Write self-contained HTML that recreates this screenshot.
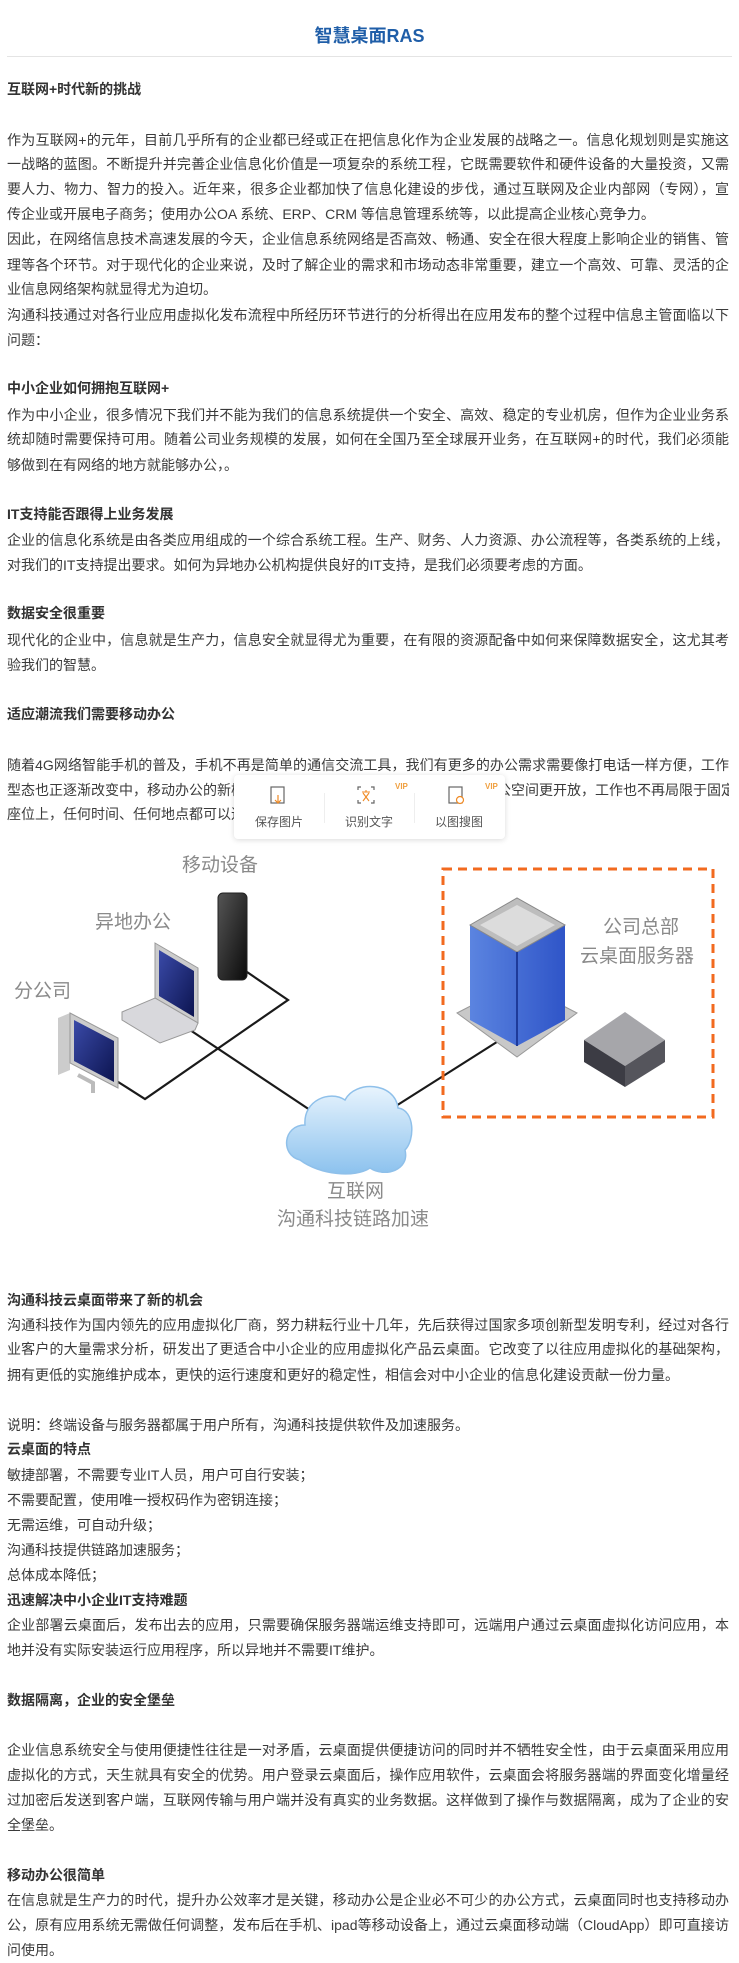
<!DOCTYPE html>
<html><head><meta charset="utf-8">
<style>
body{margin:0;background:#fff;width:739px;height:1963px;position:relative;overflow:hidden;font-family:"Liberation Sans","Noto Sans CJK SC","WenQuanYi Zen Hei",sans-serif;color:#3a3a3a}
.l{position:absolute;left:7px;width:722px;height:25px;line-height:25px;font-size:14px;white-space:nowrap;overflow:hidden}
.j{text-align:justify;text-align-last:justify}
.h{font-weight:bold;color:#333}
.lab{position:absolute;font-size:19px;color:#8a8a8a;white-space:nowrap;line-height:24px}
</style></head><body>
<div style="position:absolute;left:0;width:739px;top:22px;text-align:center;font-size:18px;font-weight:bold;color:#1f5ea8">智慧桌面RAS</div>
<div style="position:absolute;left:7px;width:725px;top:56px;height:1px;background:#e4e4e4"></div>

<div class="l h" style="top:77px">互联网+时代新的挑战</div>
<div class="l j" style="top:128px">作为互联网+的元年，目前几乎所有的企业都已经或正在把信息化作为企业发展的战略之一。信息化规划则是实施这</div>
<div class="l j" style="top:152px">一战略的蓝图。不断提升并完善企业信息化价值是一项复杂的系统工程，它既需要软件和硬件设备的大量投资，又需</div>
<div class="l j" style="top:177px">要人力、物力、智力的投入。近年来，很多企业都加快了信息化建设的步伐，通过互联网及企业内部网（专网），宣</div>
<div class="l" style="top:202px">传企业或开展电子商务；使用办公OA 系统、ERP、CRM 等信息管理系统等，以此提高企业核心竞争力。</div>
<div class="l j" style="top:227px">因此，在网络信息技术高速发展的今天，企业信息系统网络是否高效、畅通、安全在很大程度上影响企业的销售、管</div>
<div class="l j" style="top:253px">理等各个环节。对于现代化的企业来说，及时了解企业的需求和市场动态非常重要，建立一个高效、可靠、灵活的企</div>
<div class="l" style="top:277px">业信息网络架构就显得尤为迫切。</div>
<div class="l j" style="top:303px">沟通科技通过对各行业应用虚拟化发布流程中所经历环节进行的分析得出在应用发布的整个过程中信息主管面临以下</div>
<div class="l" style="top:328px">问题：</div>

<div class="l h" style="top:376px">中小企业如何拥抱互联网+</div>
<div class="l j" style="top:403px">作为中小企业，很多情况下我们并不能为我们的信息系统提供一个安全、高效、稳定的专业机房，但作为企业业务系</div>
<div class="l j" style="top:427px">统却随时需要保持可用。随着公司业务规模的发展，如何在全国乃至全球展开业务，在互联网+的时代，我们必须能</div>
<div class="l" style="top:453px">够做到在有网络的地方就能够办公，。</div>

<div class="l h" style="top:502px">IT支持能否跟得上业务发展</div>
<div class="l j" style="top:528px">企业的信息化系统是由各类应用组成的一个综合系统工程。生产、财务、人力资源、办公流程等，各类系统的上线，</div>
<div class="l" style="top:553px">对我们的IT支持提出要求。如何为异地办公机构提供良好的IT支持，是我们必须要考虑的方面。</div>

<div class="l h" style="top:601px">数据安全很重要</div>
<div class="l j" style="top:628px">现代化的企业中，信息就是生产力，信息安全就显得尤为重要，在有限的资源配备中如何来保障数据安全，这尤其考</div>
<div class="l" style="top:653px">验我们的智慧。</div>

<div class="l h" style="top:702px">适应潮流我们需要移动办公</div>
<div class="l j" style="top:753px">随着4G网络智能手机的普及，手机不再是简单的通信交流工具，我们有更多的办公需求需要像打电话一样方便，工作</div>
<div class="l j" style="top:778px">型态也正逐渐改变中，移动办公的新模式使得员工的办公时间和地点更自由，办公空间更开放，工作也不再局限于固定</div>
<div class="l" style="top:802px">座位上，任何时间、任何地点都可以进行办公。</div>

<!-- popup toolbar -->
<div style="position:absolute;left:234px;top:775px;width:271px;height:64px;background:#fff;border-radius:4px;box-shadow:0 1px 6px rgba(0,0,0,0.15);font-size:12px;color:#555">
  <div style="position:absolute;left:0;width:90px;top:38px;text-align:center">保存图片</div>
  <div style="position:absolute;left:90px;width:90px;top:38px;text-align:center">识别文字</div>
  <div style="position:absolute;left:180px;width:90px;top:38px;text-align:center">以图搜图</div>
  <div style="position:absolute;left:90px;top:18px;width:1px;height:30px;background:#eee"></div>
  <div style="position:absolute;left:180px;top:18px;width:1px;height:30px;background:#eee"></div>
  <svg style="position:absolute;left:0;top:0" width="271" height="40">
    <rect x="37" y="12" width="13" height="16" fill="none" stroke="#666" stroke-width="1.2"/>
    <path d="M44 20v8M41 25l3 3 3-3" stroke="#f08a24" fill="none" stroke-width="1.2"/>
    <path d="M127 12h-3v3M137 12h3v3M127 28h-3v-3M137 28h3v-3" stroke="#666" fill="none" stroke-width="1.2"/>
    <path d="M128 17h8M132 15v2M129 26l6-8M129 18l6 8" stroke="#f08a24" fill="none" stroke-width="1.1"/>
    <text x="161" y="14" font-size="8" fill="#f0a040" font-weight="bold" font-family="Liberation Sans">VIP</text>
    <rect x="215" y="12" width="13" height="16" fill="none" stroke="#666" stroke-width="1.2"/>
    <circle cx="226" cy="25" r="3.5" fill="#fff" stroke="#f08a24" stroke-width="1.2"/>
    <text x="251" y="14" font-size="8" fill="#f0a040" font-weight="bold" font-family="Liberation Sans">VIP</text>
  </svg>
</div>

<!-- diagram -->
<svg style="position:absolute;left:0;top:850px" width="739" height="400" viewBox="0 850 739 400">
  <defs>
    <linearGradient id="cl" x1="0" y1="0" x2="0" y2="1"><stop offset="0" stop-color="#e8f4fd"/><stop offset="1" stop-color="#8cc2ee"/></linearGradient>
    <linearGradient id="bl" x1="0" y1="0" x2="1" y2="0"><stop offset="0" stop-color="#5b84e0"/><stop offset="1" stop-color="#2f55c8"/></linearGradient>
    <linearGradient id="sc" x1="0" y1="0" x2="1" y2="1"><stop offset="0" stop-color="#3a4aa8"/><stop offset="1" stop-color="#0c1450"/></linearGradient>
    <linearGradient id="ph" x1="0" y1="0" x2="1" y2="1"><stop offset="0" stop-color="#555"/><stop offset="1" stop-color="#0a0a0a"/></linearGradient>
  </defs>
  <g stroke="#1a1a1a" stroke-width="2.2" fill="none">
    <polyline points="247,972 288,1000 145,1099 115,1080"/>
    <line x1="187" y1="1028" x2="310" y2="1110"/>
    <line x1="388" y1="1111" x2="500" y2="1040"/>
  </g>
  <rect x="218" y="893" width="29" height="87" rx="5" fill="url(#ph)" stroke="#222"/>
  <polygon points="155,943 198,968 198,1023 155,998" fill="#ccc" stroke="#999"/>
  <polygon points="159,950 194,971 194,1017 159,996" fill="url(#sc)"/>
  <polygon points="122,1012 155,998 198,1023 195,1030 160,1043 122,1020" fill="#d8d8dc" stroke="#999"/>
  <polygon points="58,1018 70,1013 70,1070 58,1075" fill="#ccc"/>
  <polygon points="70,1013 118,1038 118,1088 70,1063" fill="#ccc" stroke="#999"/>
  <polygon points="74,1020 114,1041 114,1082 74,1061" fill="url(#sc)"/>
  <path d="M78 1075l15 8v10" stroke="#bbb" stroke-width="4" fill="none"/>
  <path d="M300,1160 C280,1155 283,1125 305,1125 C303,1100 330,1090 345,1100 C355,1080 395,1082 398,1108 C415,1110 415,1140 405,1150 C410,1170 385,1178 370,1168 C355,1178 320,1175 300,1160Z" fill="url(#cl)" stroke="#8fc0ea" stroke-width="1.5"/>
  <rect x="443" y="869" width="270" height="248" fill="none" stroke="#f26a1f" stroke-width="3" stroke-dasharray="9,6"/>
  <polygon points="457,1013 517,982 577,1013 517,1057" fill="#c8c8c8" stroke="#999"/>
  <polygon points="470,925 517,898 565,925 565,1020 517,1046 470,1020" fill="url(#bl)"/>
  <polygon points="470,925 517,898 565,925 517,952" fill="#bdbdbd" stroke="#888"/>
  <polygon points="480,925 517,905 555,925 517,946" fill="#dcdcdc"/>
  <line x1="517" y1="952" x2="517" y2="1046" stroke="#1e3a9a" stroke-width="2"/>
  <polygon points="584,1040 625,1012 665,1040 625,1066" fill="#a6a6aa"/>
  <polygon points="584,1040 625,1066 625,1087 584,1062" fill="#3c3c44"/>
  <polygon points="625,1066 665,1040 665,1062 625,1087" fill="#55555c"/>
</svg>
<div class="lab" style="left:182px;top:854px">移动设备</div>
<div class="lab" style="left:95px;top:911px">异地办公</div>
<div class="lab" style="left:14px;top:980px">分公司</div>
<div class="lab" style="left:603px;top:916px">公司总部</div>
<div class="lab" style="left:580px;top:945px">云桌面服务器</div>
<div class="lab" style="left:327px;top:1180px">互联网</div>
<div class="lab" style="left:277px;top:1208px">沟通科技链路加速</div>

<div class="l h" style="top:1288px">沟通科技云桌面带来了新的机会</div>
<div class="l j" style="top:1313px">沟通科技作为国内领先的应用虚拟化厂商，努力耕耘行业十几年，先后获得过国家多项创新型发明专利，经过对各行</div>
<div class="l j" style="top:1337px">业客户的大量需求分析，研发出了更适合中小企业的应用虚拟化产品云桌面。它改变了以往应用虚拟化的基础架构，</div>
<div class="l" style="top:1363px">拥有更低的实施维护成本，更快的运行速度和更好的稳定性，相信会对中小企业的信息化建设贡献一份力量。</div>
<div class="l" style="top:1413px">说明：终端设备与服务器都属于用户所有，沟通科技提供软件及加速服务。</div>
<div class="l h" style="top:1437px">云桌面的特点</div>
<div class="l" style="top:1463px">敏捷部署，不需要专业IT人员，用户可自行安装；</div>
<div class="l" style="top:1488px">不需要配置，使用唯一授权码作为密钥连接；</div>
<div class="l" style="top:1513px">无需运维，可自动升级；</div>
<div class="l" style="top:1538px">沟通科技提供链路加速服务；</div>
<div class="l" style="top:1563px">总体成本降低；</div>
<div class="l h" style="top:1588px">迅速解决中小企业IT支持难题</div>
<div class="l j" style="top:1613px">企业部署云桌面后，发布出去的应用，只需要确保服务器端运维支持即可，远端用户通过云桌面虚拟化访问应用，本</div>
<div class="l" style="top:1638px">地并没有实际安装运行应用程序，所以异地并不需要IT维护。</div>
<div class="l h" style="top:1688px">数据隔离，企业的安全堡垒</div>
<div class="l j" style="top:1738px">企业信息系统安全与使用便捷性往往是一对矛盾，云桌面提供便捷访问的同时并不牺牲安全性，由于云桌面采用应用</div>
<div class="l j" style="top:1763px">虚拟化的方式，天生就具有安全的优势。用户登录云桌面后，操作应用软件，云桌面会将服务器端的界面变化增量经</div>
<div class="l j" style="top:1788px">过加密后发送到客户端，互联网传输与用户端并没有真实的业务数据。这样做到了操作与数据隔离，成为了企业的安</div>
<div class="l" style="top:1813px">全堡垒。</div>
<div class="l h" style="top:1863px">移动办公很简单</div>
<div class="l j" style="top:1888px">在信息就是生产力的时代，提升办公效率才是关键，移动办公是企业必不可少的办公方式，云桌面同时也支持移动办</div>
<div class="l j" style="top:1913px">公，原有应用系统无需做任何调整，发布后在手机、ipad等移动设备上，通过云桌面移动端（CloudApp）即可直接访</div>
<div class="l" style="top:1938px">问使用。</div>
</body></html>
